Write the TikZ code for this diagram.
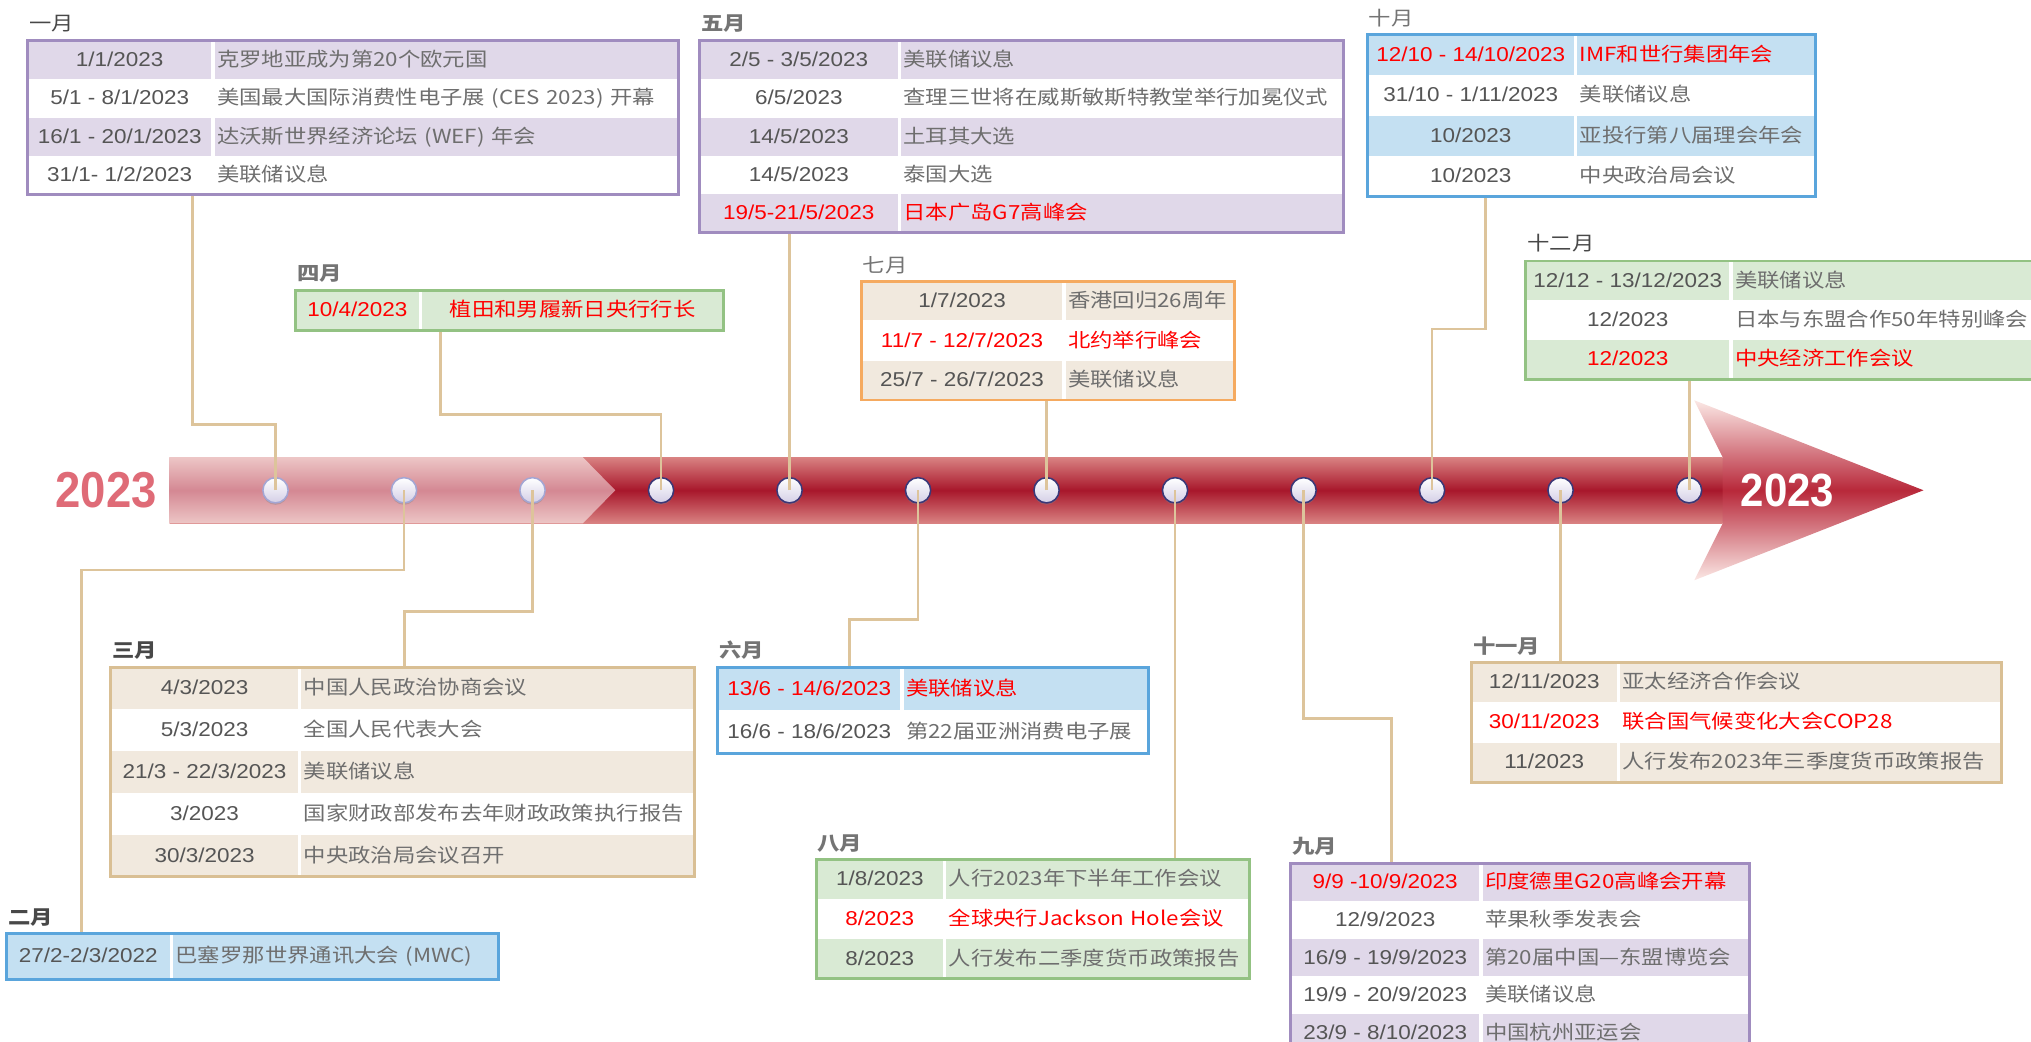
\documentclass[tikz,border=0pt]{standalone}
\usepackage{fontspec}
\usepackage{tikz}
\usetikzlibrary{positioning,fit,shadows}
\newfontfamily\cjk[FakeStretch=1.15]{Noto Sans CJK SC}
\newfontfamily\datef[FakeStretch=1.12]{Liberation Sans}
\newfontfamily\yearf[FakeStretch=0.9]{Liberation Sans}

\definecolor{purpfill}{HTML}{E0D8E9}
\definecolor{purpline}{HTML}{A08CBF}
\definecolor{tanfill}{HTML}{F1E9DE}
\definecolor{tanline}{HTML}{D9BF94}
\definecolor{bluefill}{HTML}{C4E0F2}
\definecolor{blueline}{HTML}{5AA5DC}
\definecolor{greenfill}{HTML}{D9EAD4}
\definecolor{greenline}{HTML}{93C283}
\definecolor{orangeline}{HTML}{F5AA60}
\definecolor{connline}{HTML}{DDC49B}
\definecolor{dategray}{HTML}{555555}
\definecolor{evgray}{HTML}{6E6E6E}
\definecolor{labdark}{HTML}{484848}
\definecolor{labgray}{HTML}{747474}
\definecolor{yearred}{HTML}{DF6B77}
\definecolor{hotred}{HTML}{FF0000}
\definecolor{shafttop}{HTML}{D98282}
\definecolor{shaftmid}{HTML}{A8172B}
\definecolor{lighttop}{HTML}{EDC6C6}
\definecolor{lightmid}{HTML}{D48893}
\definecolor{headpale}{HTML}{FBE8E5}
\definecolor{headmid}{HTML}{B8283A}
\definecolor{dotfill}{HTML}{D4CFE6}
\definecolor{dotlight}{HTML}{A3A6D4}
\definecolor{dotdark}{HTML}{3A3878}

\begin{document}
\begin{tikzpicture}[x=1pt,y=-1pt,
    dcell/.style={font=\datef\fontsize{15.5}{18}\selectfont,text=dategray,inner sep=0pt,
                  text height=12pt,text depth=2pt,anchor=north west},
    ecell/.style={font=\cjk\fontsize{15}{17}\selectfont,text=evgray,inner xsep=2pt,inner ysep=0pt,
                  text height=12pt,text depth=2pt,align=left},
    cells/.style n args={3}{dcell/.append style={minimum width=#1,minimum height=#3},
                            ecell/.append style={text width=#2,minimum height=#3}},
    hot/.style={text=hotred},
    boxline/.style={draw=#1,line width=2.3pt,inner sep=0pt},
    mlabel/.style={font=\cjk\bfseries\fontsize{15}{15}\selectfont,text=labgray,inner sep=0pt,anchor=west},
    thinlab/.style={font=\cjk\fontsize{15}{15}\selectfont},
    dot/.style={circle,minimum size=19.5pt,inner sep=0pt,line width=1.2pt,top color=white,
                bottom color=dotfill,drop shadow={shadow xshift=0pt,shadow yshift=-1.5pt,opacity=0.35}},
    conn/.style={draw=connline,line width=2.2pt},
    year/.style={font=\yearf\bfseries\fontsize{39}{39}\selectfont,inner sep=0pt},
  ]
  \useasboundingbox (0,0) rectangle (1568,804);

  % timeline
  \shade[top color=shafttop,bottom color=shafttop,middle color=shaftmid] (131,353) rectangle (1330,404);
  \shade[top color=lighttop,bottom color=lighttop,middle color=lightmid]
    (131,353) -- (450,353) -- (475,378.5) -- (450,404) -- (131,404) -- cycle;
  \shade[top color=headpale,bottom color=headpale,middle color=headmid]
    (1330,353) -- (1308,309) -- (1485,378.5) -- (1308,448) -- (1330,404) -- cycle;
  \node[year,text=yearred] (yearl) at (82,378.5) {2023};
  \node[year,text=white,font=\yearf\bfseries\fontsize{36}{36}\selectfont] (yearr) at (1380,378.5) {2023};

  \foreach \i in {1,2,3}
    \node[dot,draw=dotlight] (dot\i) at ({212.7+99.21*(\i-1)},378.5) {};
  \foreach \i in {4,...,12}
    \node[dot,draw=dotdark] (dot\i) at ({212.7+99.21*(\i-1)},378.5) {};

  % January
  \begin{scope}[cells={141.5pt}{354pt}{29.3pt}]
    \node[dcell,fill=purpfill] (jan-d1) at (21.5,31.5) {1/1/2023};
    \node[ecell,fill=purpfill,right=2pt of jan-d1] (jan-e1) {克罗地亚成为第20个欧元国};
    \node[dcell,below=0pt of jan-d1] (jan-d2) {5/1 - 8/1/2023};
    \node[ecell,right=2pt of jan-d2] (jan-e2) {美国最大国际消费性电子展 (CES 2023) 开幕};
    \node[dcell,fill=purpfill,below=0pt of jan-d2] (jan-d3) {16/1 - 20/1/2023};
    \node[ecell,fill=purpfill,right=2pt of jan-d3] (jan-e3) {达沃斯世界经济论坛 (WEF) 年会};
    \node[dcell,below=0pt of jan-d3] (jan-d4) {31/1- 1/2/2023};
    \node[ecell,right=2pt of jan-d4] (jan-e4) {美联储议息};
  \end{scope}
  \node[boxline=purpline,fit=(jan-d1)(jan-e4)] (jan) {};
  \node[mlabel,thinlab,text=labdark] (jan-lab) at ([shift={(1,-13)}]jan-d1.north west) {一月};

  % February
  \begin{scope}[cells={126pt}{247pt}{35pt}]
    \node[dcell,fill=bluefill] (feb-d1) at (5,720.5) {27/2-2/3/2022};
    \node[ecell,fill=bluefill,right=2pt of feb-d1] (feb-e1) {巴塞罗那世界通讯大会 (MWC)};
  \end{scope}
  \node[boxline=blueline,fit=(feb-d1)(feb-e1)] (feb) {};
  \node[mlabel,text=labdark] (feb-lab) at ([shift={(1,-12)}]feb-d1.north west) {二月};

  % March
  \begin{scope}[cells={144.5pt}{299pt}{32pt}]
    \node[dcell,fill=tanfill] (mar-d1) at (85.5,515) {4/3/2023};
    \node[ecell,fill=tanfill,right=2pt of mar-d1] (mar-e1) {中国人民政治协商会议};
    \node[dcell,below=0pt of mar-d1] (mar-d2) {5/3/2023};
    \node[ecell,right=2pt of mar-d2] (mar-e2) {全国人民代表大会};
    \node[dcell,fill=tanfill,below=0pt of mar-d2] (mar-d3) {21/3 - 22/3/2023};
    \node[ecell,fill=tanfill,right=2pt of mar-d3] (mar-e3) {美联储议息};
    \node[dcell,below=0pt of mar-d3] (mar-d4) {3/2023};
    \node[ecell,right=2pt of mar-d4] (mar-e4) {国家财政部发布去年财政政策执行报告};
    \node[dcell,fill=tanfill,below=0pt of mar-d4] (mar-d5) {30/3/2023};
    \node[ecell,fill=tanfill,right=2pt of mar-d5] (mar-e5) {中央政治局会议召开};
  \end{scope}
  \node[boxline=tanline,fit=(mar-d1)(mar-e5)] (mar) {};
  \node[mlabel,text=labdark] (mar-lab) at ([shift={(1,-13)}]mar-d1.north west) {三月};

  % April
  \begin{scope}[cells={94.5pt}{229pt}{30.8pt}]
    \node[dcell,hot,fill=greenfill] (apr-d1) at (228.5,224) {10/4/2023};
    \node[ecell,hot,align=center,fill=greenfill,right=2pt of apr-d1] (apr-e1) {植田和男履新日央行行长};
  \end{scope}
  \node[boxline=greenline,fit=(apr-d1)(apr-e1)] (apr) {};
  \node[mlabel] (apr-lab) at ([shift={(1,-13)}]apr-d1.north west) {四月};

  % May
  \begin{scope}[cells={153pt}{337.5pt}{29.2pt}]
    \node[dcell,fill=purpfill] (may-d1) at (540,31.5) {2/5 - 3/5/2023};
    \node[ecell,fill=purpfill,right=2pt of may-d1] (may-e1) {美联储议息};
    \node[dcell,below=0pt of may-d1] (may-d2) {6/5/2023};
    \node[ecell,right=2pt of may-d2] (may-e2) {查理三世将在威斯敏斯特教堂举行加冕仪式};
    \node[dcell,fill=purpfill,below=0pt of may-d2] (may-d3) {14/5/2023};
    \node[ecell,fill=purpfill,right=2pt of may-d3] (may-e3) {土耳其大选};
    \node[dcell,below=0pt of may-d3] (may-d4) {14/5/2023};
    \node[ecell,right=2pt of may-d4] (may-e4) {泰国大选};
    \node[dcell,hot,fill=purpfill,below=0pt of may-d4] (may-d5) {19/5-21/5/2023};
    \node[ecell,hot,fill=purpfill,right=2pt of may-d5] (may-e5) {日本广岛G7高峰会};
  \end{scope}
  \node[boxline=purpline,fit=(may-d1)(may-e5)] (may) {};
  \node[mlabel] (may-lab) at ([shift={(1,-13)}]may-d1.north west) {五月};

  % June
  \begin{scope}[cells={141pt}{185pt}{33pt}]
    \node[dcell,hot,fill=bluefill] (jun-d1) at (554,515) {13/6 - 14/6/2023};
    \node[ecell,hot,fill=bluefill,right=2pt of jun-d1] (jun-e1) {美联储议息};
    \node[dcell,below=0pt of jun-d1] (jun-d2) {16/6 - 18/6/2023};
    \node[ecell,right=2pt of jun-d2] (jun-e2) {第22届亚洲消费电子展};
  \end{scope}
  \node[boxline=blueline,fit=(jun-d1)(jun-e2)] (jun) {};
  \node[mlabel] (jun-lab) at ([shift={(1,-13)}]jun-d1.north west) {六月};

  % July
  \begin{scope}[cells={155pt}{126pt}{30.2pt}]
    \node[dcell,fill=tanfill] (jul-d1) at (665,217) {1/7/2023};
    \node[ecell,fill=tanfill,right=2pt of jul-d1] (jul-e1) {香港回归26周年};
    \node[dcell,hot,below=0pt of jul-d1] (jul-d2) {11/7 - 12/7/2023};
    \node[ecell,hot,right=2pt of jul-d2] (jul-e2) {北约举行峰会};
    \node[dcell,fill=tanfill,below=0pt of jul-d2] (jul-d3) {25/7 - 26/7/2023};
    \node[ecell,fill=tanfill,right=2pt of jul-d3] (jul-e3) {美联储议息};
  \end{scope}
  \node[boxline=orangeline,fit=(jul-d1)(jul-e3)] (jul) {};
  \node[mlabel,thinlab] (jul-lab) at ([shift={(1,-12.5)}]jul-d1.north west) {七月};

  % August
  \begin{scope}[cells={98pt}{230pt}{30.3pt}]
    \node[dcell,fill=greenfill] (aug-d1) at (630,663.5) {1/8/2023};
    \node[ecell,fill=greenfill,right=2pt of aug-d1] (aug-e1) {人行2023年下半年工作会议};
    \node[dcell,hot,below=0pt of aug-d1] (aug-d2) {8/2023};
    \node[ecell,hot,right=2pt of aug-d2] (aug-e2) {全球央行Jackson Hole会议};
    \node[dcell,fill=greenfill,below=0pt of aug-d2] (aug-d3) {8/2023};
    \node[ecell,fill=greenfill,right=2pt of aug-d3] (aug-e3) {人行发布二季度货币政策报告};
  \end{scope}
  \node[boxline=greenline,fit=(aug-d1)(aug-e3)] (aug) {};
  \node[mlabel] (aug-lab) at ([shift={(1,-12.5)}]aug-d1.north west) {八月};

  % September
  \begin{scope}[cells={145.5pt}{202pt}{28.7pt}]
    \node[dcell,hot,fill=purpfill] (sep-d1) at (996.5,666.5) {9/9 -10/9/2023};
    \node[ecell,hot,fill=purpfill,right=2pt of sep-d1] (sep-e1) {印度德里G20高峰会开幕};
    \node[dcell,below=0pt of sep-d1] (sep-d2) {12/9/2023};
    \node[ecell,right=2pt of sep-d2] (sep-e2) {苹果秋季发表会};
    \node[dcell,fill=purpfill,below=0pt of sep-d2] (sep-d3) {16/9 - 19/9/2023};
    \node[ecell,fill=purpfill,right=2pt of sep-d3] (sep-e3) {第20届中国—东盟博览会};
    \node[dcell,below=0pt of sep-d3] (sep-d4) {19/9 - 20/9/2023};
    \node[ecell,right=2pt of sep-d4] (sep-e4) {美联储议息};
    \node[dcell,fill=purpfill,below=0pt of sep-d4] (sep-d5) {23/9 - 8/10/2023};
    \node[ecell,fill=purpfill,right=2pt of sep-d5] (sep-e5) {中国杭州亚运会};
  \end{scope}
  \node[boxline=purpline,fit=(sep-d1)(sep-e5)] (sep) {};
  \node[mlabel] (sep-lab) at ([shift={(1,-13)}]sep-d1.north west) {九月};

  % October
  \begin{scope}[cells={159.5pt}{179.5pt}{30.7pt}]
    \node[dcell,hot,fill=bluefill] (oct-d1) at (1055.5,27) {12/10 - 14/10/2023};
    \node[ecell,hot,fill=bluefill,right=2pt of oct-d1] (oct-e1) {IMF和世行集团年会};
    \node[dcell,below=0pt of oct-d1] (oct-d2) {31/10 - 1/11/2023};
    \node[ecell,right=2pt of oct-d2] (oct-e2) {美联储议息};
    \node[dcell,fill=bluefill,below=0pt of oct-d2] (oct-d3) {10/2023};
    \node[ecell,fill=bluefill,right=2pt of oct-d3] (oct-e3) {亚投行第八届理会年会};
    \node[dcell,below=0pt of oct-d3] (oct-d4) {10/2023};
    \node[ecell,right=2pt of oct-d4] (oct-e4) {中央政治局会议};
  \end{scope}
  \node[boxline=blueline,fit=(oct-d1)(oct-e4)] (oct) {};
  \node[mlabel,thinlab] (oct-lab) at ([shift={(1,-13)}]oct-d1.north west) {十月};

  % November
  \begin{scope}[cells={112pt}{290.5pt}{30.4pt}]
    \node[dcell,fill=tanfill] (nov-d1) at (1136,511.5) {12/11/2023};
    \node[ecell,fill=tanfill,right=2pt of nov-d1] (nov-e1) {亚太经济合作会议};
    \node[dcell,hot,below=0pt of nov-d1] (nov-d2) {30/11/2023};
    \node[ecell,hot,right=2pt of nov-d2] (nov-e2) {联合国气候变化大会COP28};
    \node[dcell,fill=tanfill,below=0pt of nov-d2] (nov-d3) {11/2023};
    \node[ecell,fill=tanfill,right=2pt of nov-d3] (nov-e3) {人行发布2023年三季度货币政策报告};
  \end{scope}
  \node[boxline=tanline,fit=(nov-d1)(nov-e3)] (nov) {};
  \node[mlabel] (nov-lab) at ([shift={(1,-12.5)}]nov-d1.north west) {十一月};

  % December
  \begin{scope}[cells={157pt}{239pt}{30pt}]
    \node[dcell,fill=greenfill] (dec-d1) at (1178,201.5) {12/12 - 13/12/2023};
    \node[ecell,fill=greenfill,right=2pt of dec-d1] (dec-e1) {美联储议息};
    \node[dcell,below=0pt of dec-d1] (dec-d2) {12/2023};
    \node[ecell,right=2pt of dec-d2] (dec-e2) {日本与东盟合作50年特别峰会};
    \node[dcell,hot,fill=greenfill,below=0pt of dec-d2] (dec-d3) {12/2023};
    \node[ecell,hot,fill=greenfill,right=2pt of dec-d3] (dec-e3) {中央经济工作会议};
  \end{scope}
  \node[boxline=greenline,fit=(dec-d1)(dec-e3)] (dec) {};
  \node[mlabel,thinlab,text=labdark] (dec-lab) at ([shift={(1,-13.5)}]dec-d1.north west) {十二月};

  % connectors
  \coordinate (jan-bend) at (148.5,328);
  \coordinate (feb-bend) at (63,440);
  \coordinate (mar-bend) at (312,472);
  \coordinate (apr-bend) at (340,320);
  \coordinate (jun-bend) at (656,478);
  \coordinate (sep-bend) at (1074,555);
  \coordinate (oct-bend) at (1147,254);
  \draw[conn] (dot1.center) |- (jan-bend) -- (jan-bend |- jan.south);
  \draw[conn] (dot2.center) |- (feb-bend) -- (feb-bend |- feb.north);
  \draw[conn] (dot3.center) |- (mar-bend) -- (mar-bend |- mar.north);
  \draw[conn] (dot4.center) |- (apr-bend) -- (apr-bend |- apr.south);
  \draw[conn] (dot5.center) -- (dot5.center |- may.south);
  \draw[conn] (dot6.center) |- (jun-bend) -- (jun-bend |- jun.north);
  \draw[conn] (dot7.center) -- (dot7.center |- jul.south);
  \draw[conn] (dot8.center) -- (dot8.center |- aug.north);
  \draw[conn] (dot9.center) |- (sep-bend) -- (sep-bend |- sep.north);
  \draw[conn] (dot10.center) |- (oct-bend) -- (oct-bend |- oct.south);
  \draw[conn] (dot11.center) -- (dot11.center |- nov.north);
  \draw[conn] (dot12.center) -- (dot12.center |- dec.south);
\end{tikzpicture}
\end{document}
